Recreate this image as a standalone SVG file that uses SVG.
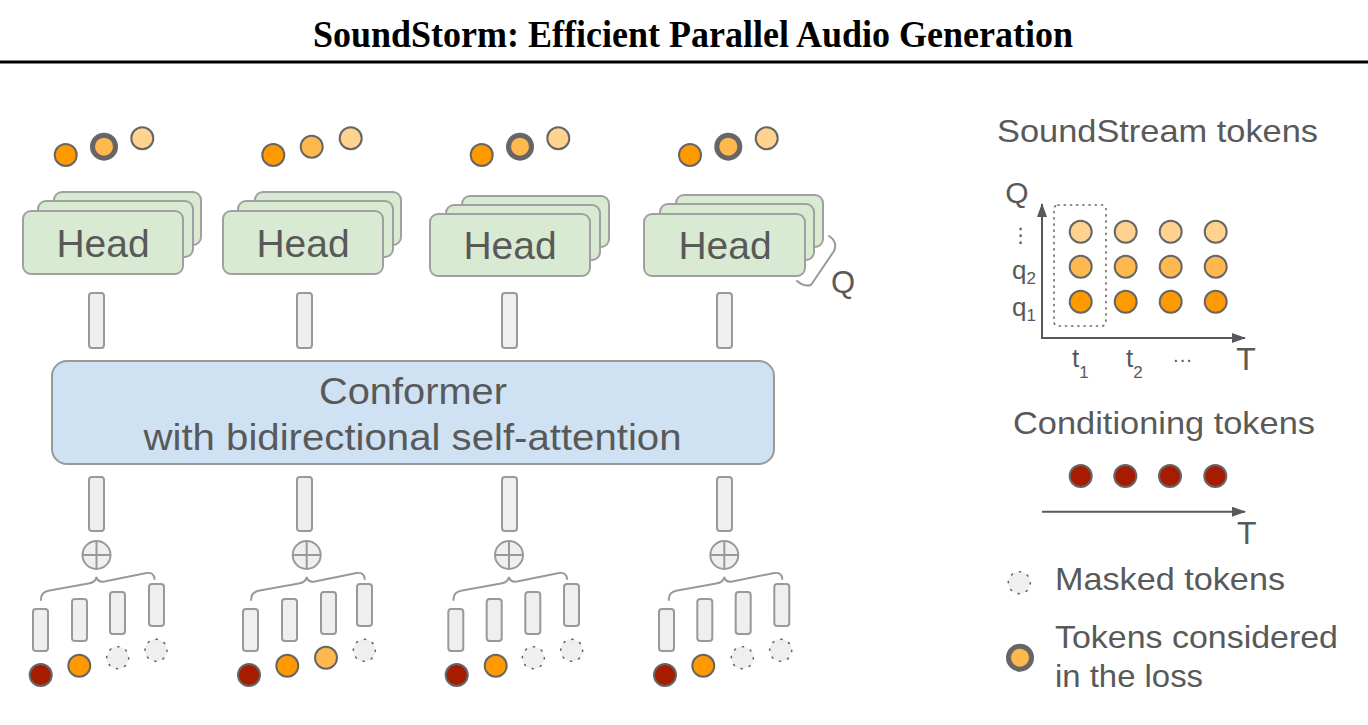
<svg xmlns="http://www.w3.org/2000/svg" xmlns:xlink="http://www.w3.org/1999/xlink" width="1368" height="725" viewBox="0 0 1368 725">
<style>
.txt{font-family:"Liberation Sans",Arial,sans-serif;fill:#595959}
.head{fill:#d9ead3;stroke:#a0a0a0;stroke-width:2}
.bar{fill:#efefef;stroke:#999;stroke-width:2}
.conf{fill:#cfe2f3;stroke:#999;stroke-width:2}
.tok{stroke:#666;stroke-width:2}
.loss{stroke:#666;stroke-width:5}
.o1{fill:#ff9900}
.o2{fill:#ffb84d}
.o3{fill:#ffd38f}
.red{fill:#a61c00}
.mask{fill:#efefef;stroke:#666;stroke-width:1.6;stroke-dasharray:1.2 7.4;stroke-linecap:round}
.plus{fill:#efefef;stroke:#999;stroke-width:2}
.brace{fill:none;stroke:#999;stroke-width:2;stroke-linecap:round}
.axis{stroke:#595959;stroke-width:2;fill:none}
</style>
<defs>
<marker id="arr" markerUnits="userSpaceOnUse" markerWidth="14" markerHeight="10" refX="13" refY="5" orient="auto">
<path d="M0,0 L14,5 L0,10 z" fill="#595959"/>
</marker>
<path id="brace" d="M-55.5,23 Q-56,15 -47,13.5 L-8,6.5 Q-1,5.5 0,0 Q1,5.5 8,4.5 L50,-4 Q57.5,-5 58,2" class="brace"/>
<g id="plusg"><circle r="14" class="plus"/><path d="M-14,0 H14 M0,-14 V14" stroke="#999" stroke-width="2"/></g>
</defs>
<rect width="1368" height="725" fill="#fff"/>

<g id="title">
<text x="693" y="47" text-anchor="middle" font-family="Liberation Serif,serif" font-weight="bold" font-size="38" textLength="760" lengthAdjust="spacingAndGlyphs" fill="#000">SoundStorm: Efficient Parallel Audio Generation</text>
<line x1="0" y1="62" x2="1368" y2="62" stroke="#000" stroke-width="3"/>
</g>

<g id="col1">
<circle cx="65.7" cy="155" r="11" class="tok o1"/>
<circle cx="104" cy="146.7" r="11.5" class="loss o2"/>
<circle cx="142.3" cy="138.3" r="11" class="tok o3"/>
<rect x="54" y="192" width="147" height="53" rx="8" class="head"/>
<rect x="38" y="201" width="155" height="56" rx="8" class="head"/>
<rect x="23" y="211" width="160" height="63" rx="8" class="head"/>
<text x="103" y="257" text-anchor="middle" font-size="39" class="txt">Head</text>
<rect x="89" y="293" width="15" height="55" rx="3" class="bar"/>
<rect x="89" y="477" width="15" height="54" rx="3" class="bar"/>
<use href="#plusg" x="96.5" y="555"/>
<rect x="33" y="609" width="15" height="42" rx="3" class="bar"/>
<rect x="72" y="599" width="15" height="42" rx="3" class="bar"/>
<rect x="110" y="592" width="15" height="42" rx="3" class="bar"/>
<rect x="149" y="584" width="15" height="42" rx="3" class="bar"/>
<circle cx="40.7" cy="675" r="11" class="tok red"/>
<circle cx="79.3" cy="665.7" r="11" class="tok o1"/>
<circle cx="117.7" cy="657.7" r="11" class="mask"/>
<circle cx="156" cy="650.3" r="11" class="mask"/>
</g>

<g id="col2">
<circle cx="273.3" cy="155" r="11" class="tok o1"/>
<circle cx="311.7" cy="146.7" r="11" class="tok o2"/>
<circle cx="350.7" cy="138.3" r="11" class="tok o3"/>
<rect x="255" y="192" width="146" height="53" rx="8" class="head"/>
<rect x="238" y="201" width="155" height="56" rx="8" class="head"/>
<rect x="223" y="211" width="160" height="63" rx="8" class="head"/>
<text x="303" y="257" text-anchor="middle" font-size="39" class="txt">Head</text>
<rect x="297" y="293" width="15" height="55" rx="3" class="bar"/>
<rect x="297" y="477" width="15" height="54" rx="3" class="bar"/>
<use href="#plusg" x="306.7" y="555"/>
<rect x="243" y="609" width="15" height="42" rx="3" class="bar"/>
<rect x="282" y="599" width="15" height="42" rx="3" class="bar"/>
<rect x="321" y="592" width="15" height="42" rx="3" class="bar"/>
<rect x="357" y="584" width="15" height="42" rx="3" class="bar"/>
<circle cx="249" cy="675" r="11" class="tok red"/>
<circle cx="287.3" cy="665.7" r="11" class="tok o1"/>
<circle cx="326" cy="657.7" r="11" class="tok o2"/>
<circle cx="364.3" cy="650.3" r="11" class="mask"/>
</g>

<g id="col3">
<circle cx="481.7" cy="155" r="11" class="tok o1"/>
<circle cx="520" cy="146.7" r="11.5" class="loss o2"/>
<circle cx="558.3" cy="138.3" r="11" class="tok o3"/>
<rect x="462" y="196" width="147" height="51" rx="8" class="head"/>
<rect x="446" y="205" width="154" height="55" rx="8" class="head"/>
<rect x="430" y="214" width="160" height="62" rx="8" class="head"/>
<text x="510" y="259" text-anchor="middle" font-size="39" class="txt">Head</text>
<rect x="502" y="293" width="15" height="55" rx="3" class="bar"/>
<rect x="502" y="477" width="15" height="54" rx="3" class="bar"/>
<use href="#plusg" x="509" y="555"/>
<rect x="448.3" y="609" width="15" height="42" rx="3" class="bar"/>
<rect x="486.7" y="599" width="15" height="42" rx="3" class="bar"/>
<rect x="525.3" y="592" width="15" height="42" rx="3" class="bar"/>
<rect x="564" y="584" width="15" height="42" rx="3" class="bar"/>
<circle cx="456.7" cy="675" r="11" class="tok red"/>
<circle cx="495.7" cy="665.7" r="11" class="tok o1"/>
<circle cx="533.3" cy="657.7" r="11" class="mask"/>
<circle cx="571.7" cy="650.3" r="11" class="mask"/>
</g>

<g id="col4">
<circle cx="690" cy="155" r="11" class="tok o1"/>
<circle cx="728.3" cy="146.7" r="11.5" class="loss o2"/>
<circle cx="766.7" cy="138.3" r="11" class="tok o3"/>
<rect x="676" y="195" width="147" height="52" rx="8" class="head"/>
<rect x="660" y="204" width="154" height="56" rx="8" class="head"/>
<rect x="644" y="214" width="161" height="62" rx="8" class="head"/>
<text x="725" y="259" text-anchor="middle" font-size="39" class="txt">Head</text>
<path d="M797,281 Q804,287 811,285 L834,251 Q838,242 829,236" class="brace"/>
<text x="843" y="293" text-anchor="middle" font-size="31" class="txt">Q</text>
<rect x="717" y="293" width="15" height="55" rx="3" class="bar"/>
<rect x="717" y="477" width="15" height="54" rx="3" class="bar"/>
<use href="#plusg" x="724.3" y="555"/>
<rect x="659" y="609" width="15" height="42" rx="3" class="bar"/>
<rect x="697.3" y="599" width="15" height="42" rx="3" class="bar"/>
<rect x="735.7" y="592" width="15" height="42" rx="3" class="bar"/>
<rect x="774.3" y="584" width="15" height="42" rx="3" class="bar"/>
<circle cx="665" cy="675" r="11" class="tok red"/>
<circle cx="703.3" cy="665.7" r="11" class="tok o1"/>
<circle cx="742.3" cy="657.7" r="11" class="mask"/>
<circle cx="780.7" cy="650.3" r="11" class="mask"/>
</g>

<g id="conformer">
<rect x="52" y="361" width="722" height="103" rx="15" class="conf"/>
<text x="413" y="404" text-anchor="middle" font-size="36" textLength="188" lengthAdjust="spacingAndGlyphs" class="txt">Conformer</text>
<text x="412.5" y="450" text-anchor="middle" font-size="36" textLength="538" lengthAdjust="spacingAndGlyphs" class="txt">with bidirectional self-attention</text>
</g>

<g id="connectors">
<use href="#brace" x="96.5" y="577"/>
<use href="#brace" x="306.7" y="577"/>
<use href="#brace" x="509" y="577"/>
<use href="#brace" x="724.3" y="577"/>
</g>

<g id="soundstream">
<text x="997" y="141.7" font-size="32" textLength="321" lengthAdjust="spacingAndGlyphs" class="txt">SoundStream tokens</text>
<text x="1017" y="203" text-anchor="middle" font-size="30" class="txt">Q</text>
<line x1="1042" y1="339" x2="1042" y2="204" class="axis" marker-end="url(#arr)"/>
<line x1="1041" y1="338" x2="1245" y2="338" class="axis" marker-end="url(#arr)"/>
<text x="1246" y="370" text-anchor="middle" font-size="32" class="txt">T</text>
<rect x="1054" y="205" width="52" height="121" rx="4" fill="none" stroke="#666" stroke-width="1.6" stroke-dasharray="1.2 5" stroke-linecap="round"/>
<circle cx="1080.7" cy="231.7" r="11" class="tok o3"/>
<circle cx="1125.7" cy="231.7" r="11" class="tok o3"/>
<circle cx="1170.7" cy="231.7" r="11" class="tok o3"/>
<circle cx="1215.7" cy="231.7" r="11" class="tok o3"/>
<circle cx="1080.7" cy="266.7" r="11" class="tok o2"/>
<circle cx="1125.7" cy="266.7" r="11" class="tok o2"/>
<circle cx="1170.7" cy="266.7" r="11" class="tok o2"/>
<circle cx="1215.7" cy="266.7" r="11" class="tok o2"/>
<circle cx="1080.7" cy="301.7" r="11" class="tok o1"/>
<circle cx="1125.7" cy="301.7" r="11" class="tok o1"/>
<circle cx="1170.7" cy="301.7" r="11" class="tok o1"/>
<circle cx="1215.7" cy="301.7" r="11" class="tok o1"/>
<text x="1020.5" y="242" text-anchor="middle" font-size="20" font-family="DejaVu Sans,sans-serif" fill="#595959">⋮</text>
<text x="1012" y="279" font-size="26" class="txt">q<tspan font-size="17" dy="5">2</tspan></text>
<text x="1012" y="316" font-size="26" class="txt">q<tspan font-size="17" dy="5">1</tspan></text>
<text x="1072" y="367" font-size="26" class="txt">t<tspan font-size="17" dy="11">1</tspan></text>
<text x="1126" y="367" font-size="26" class="txt">t<tspan font-size="17" dy="11">2</tspan></text>
<text x="1182.5" y="366" text-anchor="middle" font-size="20" class="txt">···</text>
</g>

<g id="conditioning">
<text x="1013" y="434.3" font-size="32" textLength="302" lengthAdjust="spacingAndGlyphs" class="txt">Conditioning tokens</text>
<circle cx="1080.7" cy="476" r="11" class="tok red"/>
<circle cx="1125.3" cy="476" r="11" class="tok red"/>
<circle cx="1170" cy="476" r="11" class="tok red"/>
<circle cx="1215.3" cy="476" r="11" class="tok red"/>
<line x1="1042" y1="511.7" x2="1245" y2="511.7" class="axis" marker-end="url(#arr)"/>
<text x="1246.7" y="544" text-anchor="middle" font-size="32" class="txt">T</text>
</g>

<g id="legend">
<circle cx="1019.3" cy="582.7" r="11" class="mask"/>
<text x="1055" y="590" font-size="32" textLength="230" lengthAdjust="spacingAndGlyphs" class="txt">Masked tokens</text>
<circle cx="1020" cy="657.7" r="11.5" class="loss o2"/>
<text x="1055" y="648.3" font-size="32" textLength="283" lengthAdjust="spacingAndGlyphs" class="txt">Tokens considered</text>
<text x="1055" y="687" font-size="32" textLength="148" lengthAdjust="spacingAndGlyphs" class="txt">in the loss</text>
</g>
</svg>
